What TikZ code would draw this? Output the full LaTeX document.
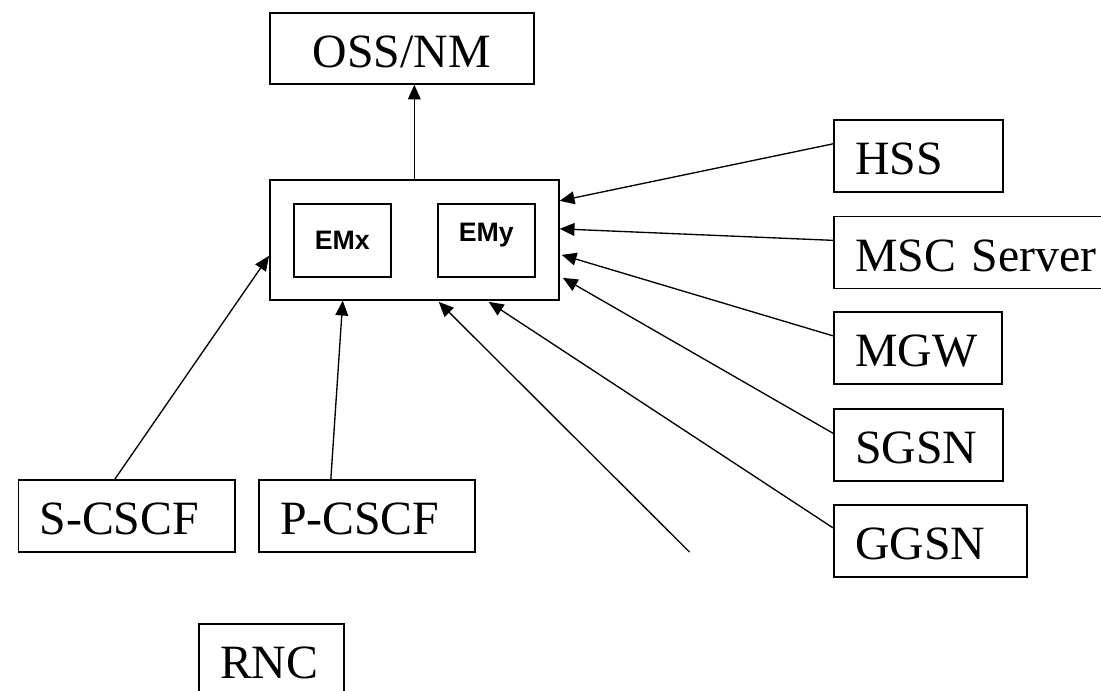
\documentclass[tikz,border=0pt]{standalone}
\usepackage{fontspec}
\setmainfont{Liberation Serif}
\setsansfont{Liberation Sans}
\usepackage{tikz}
\usetikzlibrary{arrows.meta, calc}

\begin{document}
\begin{tikzpicture}[style={line cap = round},
    nebox/.style={draw, line width=1.2pt, anchor=north west, align=left, text width=#1,
      minimum height=1.8cm, inner xsep=0.53cm, inner ysep=0pt, text height=30.6pt, text depth=4pt,
      font=\fontsize{34}{38}\selectfont},
    embox/.style={draw, line width=1.2pt, anchor=north west, minimum width=2.425cm, minimum height=1.825cm,
      text height=13.6pt, text depth=0pt, font=\fontsize{19}{22}\selectfont\sffamily\bfseries},
    feed/.style={line width=0.95pt, -{Triangle[length=0.37cm, width=0.32cm]}}]

  \useasboundingbox (0, 0) rectangle (27.525, -17.25);

  % management side
  \node [nebox=5.54cm, align=center, minimum height=1.775cm] (oss) at (6.725, -0.3) {OSS/NM};
  \node [draw, line width=1.2pt, anchor=north west, minimum width=7.225cm, minimum height=3cm] (em) at (6.725, -4.475) {};
  \node [embox] (emx) at (7.325, -5.075) {EMx};
  \node [embox, text depth=11.4pt] (emy) at (10.925, -5.075) {EMy};

  % network elements
  \node [nebox=3.165cm] (hss) at (20.825, -2.975) {HSS};
  \node [nebox=6.4cm] (msc) at (20.825, -5.3875) {MSC Server};
  \node [nebox=3.14cm] (mgw) at (20.825, -7.775) {MGW};
  \node [nebox=3.165cm] (sgsn) at (20.825, -10.2) {SGSN};
  \node [nebox=3.765cm] (ggsn) at (20.825, -12.6) {GGSN};
  \node [nebox=4.35cm] (scscf) at (0.4375, -11.975) {S-CSCF};
  \node [nebox=4.34cm] (pcscf) at (6.45, -11.975) {P-CSCF};
  \node [nebox=2.565cm] (rnc) at (4.95, -15.575) {RNC};
  \coordinate (open) at (17.2375, -13.8);

  \draw[feed] (em.north) -- (em.north |- oss.south);
  \draw[feed] ([yshift=0.3cm]hss.west) -- ([yshift=0.975cm]em.east);
  \draw[feed] ([yshift=0.3cm]msc.west) -- ([yshift=0.275cm]em.east);
  \draw[feed] ([yshift=0.3cm]mgw.west) -- ([xshift=0.05cm, yshift=-0.375cm]em.east);
  \draw[feed] ([yshift=0.29cm]sgsn.west) -- ([xshift=0.08cm, yshift=-0.95cm]em.east);
  \draw[feed] ([yshift=0.325cm]ggsn.west) -- ([xshift=1.86cm, yshift=-0.03cm]em.south);
  \draw[feed] (open) -- ([xshift=0.61cm, yshift=-0.03cm]em.south);
  \draw[feed] ([xshift=-0.9cm]pcscf.north) -- ([xshift=-1.79cm]em.south);
  \draw[feed] ([xshift=-0.29cm]scscf.north) -- ([yshift=-0.4cm]em.west);

\end{tikzpicture}
\end{document}
